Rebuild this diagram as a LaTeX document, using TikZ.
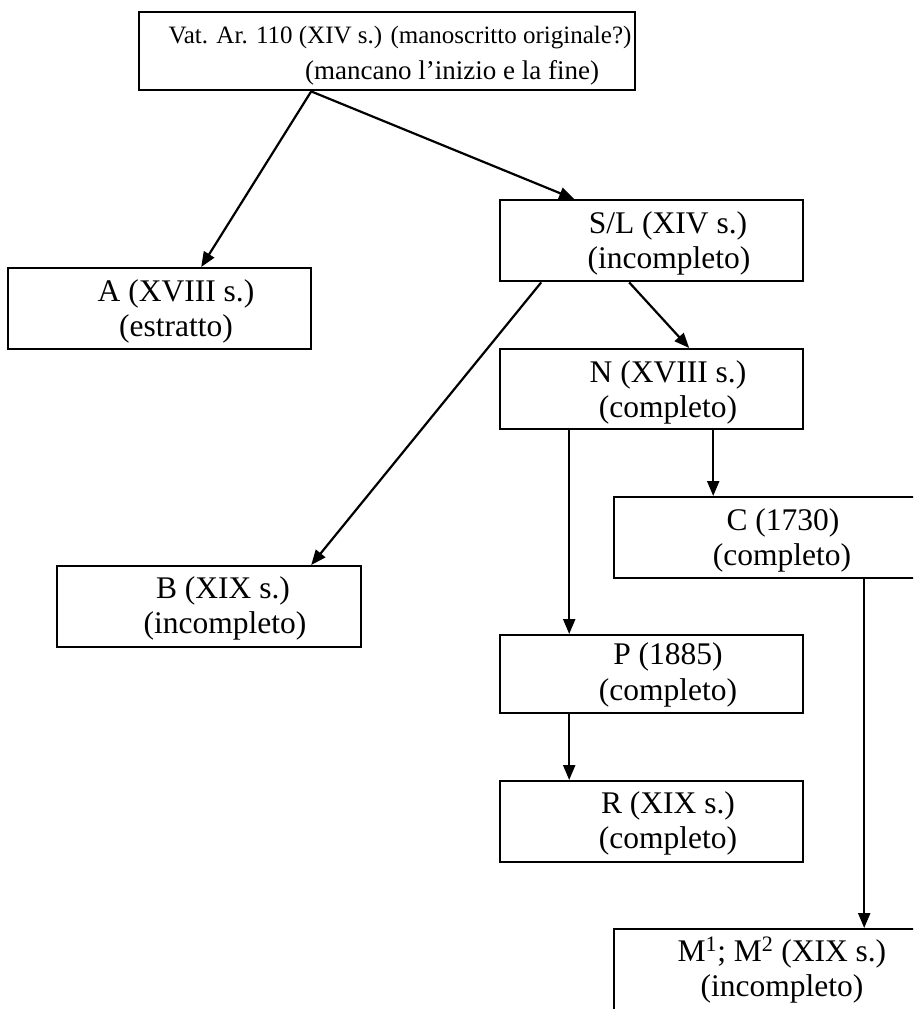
\documentclass[tikz,border=0pt]{standalone}
\usepackage{fontspec}
\setmainfont{Liberation Serif}
\usetikzlibrary{arrows.meta}
\begin{document}
\begin{tikzpicture}[x=1pt,y=-1pt,
  box/.style={draw=black,line width=2.4pt,rectangle,inner sep=0pt,anchor=north west},
  lbl/.style={anchor=base,inner sep=0pt,font=\fontsize{31.5}{36}\selectfont},
  toplbl/.style={anchor=base,inner sep=0pt,font=\fontsize{25}{30}\selectfont},
  toplblb/.style={anchor=base,inner sep=0pt,font=\fontsize{27}{30}\selectfont},
  arr/.style={line width=2.2pt,-{Triangle[length=15pt,width=12pt]}}]
\useasboundingbox (0,0) rectangle (913,1009);
\clip (0,0) rectangle (913,1009);
\fill[white] (0,0) rectangle (913,1009);
% boxes
\node[box,minimum width=496pt,minimum height=78pt] (top) at (138,11) {};
\node[box,minimum width=303pt,minimum height=81pt] (A) at (7,267) {};
\node[box,minimum width=303pt,minimum height=81pt] (SL) at (499,199) {};
\node[box,minimum width=303pt,minimum height=80pt] (N) at (499,348) {};
\node[box,minimum width=317pt,minimum height=81pt] (C) at (613,496) {};
\node[box,minimum width=304pt,minimum height=81pt] (B) at (56,565) {};
\node[box,minimum width=303pt,minimum height=78pt] (P) at (499,634) {};
\node[box,minimum width=303pt,minimum height=81pt] (R) at (499,780) {};
\node[box,minimum width=317pt,minimum height=92pt] (M) at (613,928) {};
% texts
\node[toplbl] (t1) at (400,43) {Vat. Ar. 110 (XIV s.) (manoscritto originale?)};
\node[toplblb] (t2) at (452,79) {(mancano l’inizio e la fine)};
\node[lbl] (a1) at (176,301) {A (XVIII s.)};
\node[lbl] (a2) at (176,336) {(estratto)};
\node[lbl] (s1) at (668,233) {S/L (XIV s.)};
\node[lbl] (s2) at (669,268) {(incompleto)};
\node[lbl] (n1) at (668,382) {N (XVIII s.)};
\node[lbl] (n2) at (668,417) {(completo)};
\node[lbl] (c1) at (783,530) {C (1730)};
\node[lbl] (c2) at (782,565) {(completo)};
\node[lbl] (b1) at (223,598) {B (XIX s.)};
\node[lbl] (b2) at (225,633) {(incompleto)};
\node[lbl] (p1) at (668,664) {P (1885)};
\node[lbl] (p2) at (668,700) {(completo)};
\node[lbl] (r1) at (668,813) {R (XIX s.)};
\node[lbl] (r2) at (668,848) {(completo)};
\node[lbl] (m1) at (782,961) {M\textsuperscript{1}; M\textsuperscript{2} (XIX s.)};
\node[lbl] (m2) at (782,996) {(incompleto)};
% connectors
\draw[arr] ([xshift=-76pt]top.south) -- ([xshift=41.5pt]A.north);
\draw[arr] ([xshift=-76pt]top.south) -- ([xshift=-77.5pt]SL.north);
\draw[arr] ([xshift=-110.5pt]SL.south) -- ([xshift=102pt]B.north);
\draw[arr] ([xshift=-22.5pt]SL.south) -- ([xshift=37.5pt]N.north);
\draw[arr] ([xshift=61.5pt]N.south) -- ([xshift=-59.5pt]C.north);
\draw[arr] ([xshift=-82.5pt]N.south) -- ([xshift=-82.5pt]P.north);
\draw[arr] ([xshift=-82.5pt]P.south) -- ([xshift=-82.5pt]R.north);
\draw[arr] ([xshift=91.5pt]C.south) -- ([xshift=91.5pt]M.north);
\end{tikzpicture}
\end{document}
